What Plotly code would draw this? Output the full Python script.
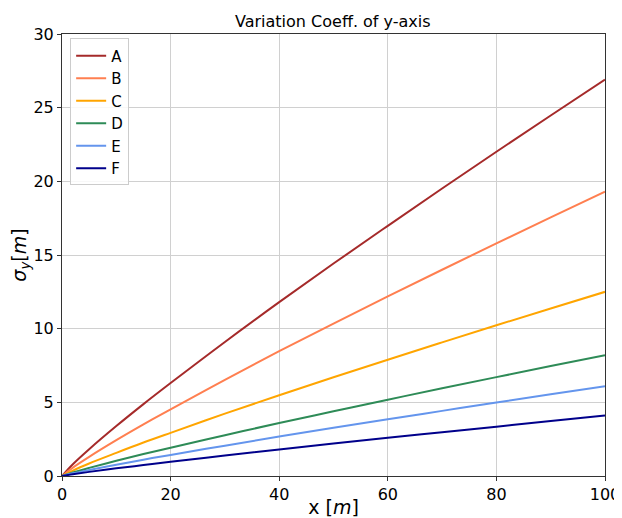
import plotly.graph_objects as go

x_vals = [0, 2, 5, 10, 15, 20, 30, 40, 50, 60, 70, 80, 90, 100]
series_names = ["A", "B", "C", "D", "E", "F"]
sig_A = [0, 0.80, 1.82, 3.39, 4.88, 6.31, 9.10, 11.80, 14.42, 16.98, 19.51, 22.01, 24.47, 26.9]
sig_B = [0, 0.57, 1.30, 2.43, 3.50, 4.53, 6.53, 8.47, 10.34, 12.19, 14.00, 15.79, 17.55, 19.3]
sig_C = [0, 0.37, 0.85, 1.57, 2.27, 2.93, 4.23, 5.48, 6.70, 7.89, 9.07, 10.23, 11.37, 12.5]
sig_D = [0, 0.24, 0.55, 1.03, 1.49, 1.92, 2.77, 3.60, 4.39, 5.18, 5.95, 6.71, 7.46, 8.2]
sig_E = [0, 0.18, 0.41, 0.77, 1.11, 1.43, 2.06, 2.68, 3.27, 3.85, 4.42, 4.99, 5.55, 6.1]
sig_F = [0, 0.12, 0.28, 0.52, 0.74, 0.96, 1.39, 1.80, 2.20, 2.59, 2.97, 3.35, 3.73, 4.1]
colors = ["#A52A2A", "#FF7F50", "#FFA500", "#2E8B57", "#6495ED", "#00008B"]
x_ticks = [0, 20, 40, 60, 80, 100]
y_ticks = [0, 5, 10, 15, 20, 25, 30]

fig = go.Figure()
for name, ys, c in zip(series_names, [sig_A, sig_B, sig_C, sig_D, sig_E, sig_F], colors):
    fig.add_trace(go.Scatter(x=x_vals, y=ys, mode="lines", name=name,
                             line=dict(color=c, width=2, shape="spline")))

axis_common = dict(showline=True, linecolor="#333333", linewidth=1, mirror=True,
                   ticks="outside", ticklen=4, tickcolor="#333333", automargin=False,
                   showgrid=True, gridcolor="#d0d0d0", gridwidth=1, zeroline=False,
                   tickfont=dict(family="DejaVu Sans", size=16, color="black"))

fig.update_layout(
    width=614, height=510,
    margin=dict(l=54, r=17, t=26, b=42),
    paper_bgcolor="white", plot_bgcolor="white",
    font=dict(family="DejaVu Sans", color="black"),
    title=dict(text="Variation Coeff. of y-axis", x=0.529, xanchor="center",
               y=0.973, yanchor="middle", font=dict(size=16), automargin=False),
    legend=dict(x=0.015, y=0.99, xanchor="left", yanchor="top",
                bgcolor="rgba(255,255,255,0.85)", bordercolor="#cccccc", borderwidth=1,
                font=dict(size=15), tracegroupgap=0, itemwidth=30),
    showlegend=True,
)
fig.update_xaxes(range=[0, 100], tickvals=x_ticks,
                 title=dict(text="x [<i>m</i>]", font=dict(size=19), standoff=4), **axis_common)
fig.update_yaxes(range=[0, 30], tickvals=y_ticks,
                 title=dict(text="<i>σ<sub>y</sub></i>[<i>m</i>]", font=dict(size=19), standoff=8), **axis_common)

fig.write_html("out.html")
